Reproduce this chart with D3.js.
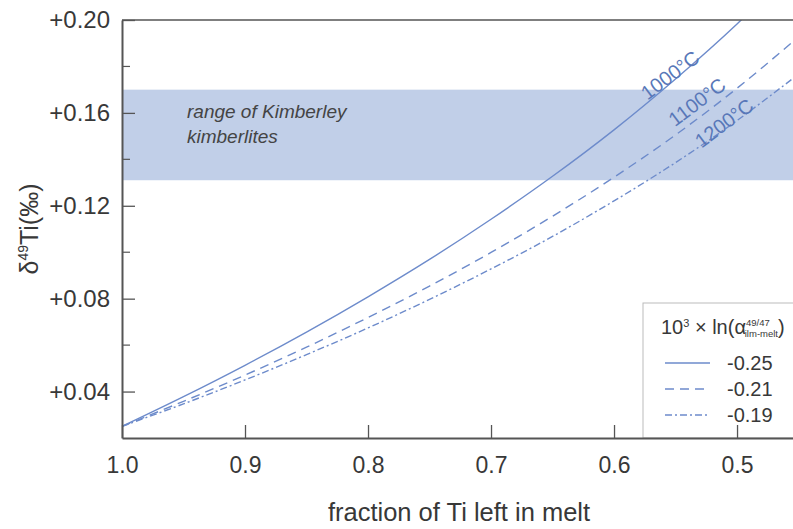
<!DOCTYPE html>
<html>
<head>
<meta charset="utf-8">
<script src="https://cdn.jsdelivr.net/npm/d3@7"></script>
<style>
  body { margin: 0; background: #fff; }
  svg { font-family: "Liberation Sans", Arial, sans-serif; }
</style>
</head>
<body>
<svg width="793" height="529"></svg>
<script>
// fraction of Ti left in melt
var fractions = [1.0, 0.95, 0.9, 0.85, 0.8, 0.75, 0.7, 0.65, 0.6, 0.55, 0.5, 0.45];
// d49Ti
var curve1000 = [0.025, 0.0378, 0.0513, 0.0656, 0.0808, 0.0969, 0.1142, 0.1327, 0.1527, 0.1746, 0.1983, 0.2246];
var curve1100 = [0.025, 0.0358, 0.0471, 0.0591, 0.0719, 0.0854, 0.0999, 0.1155, 0.1323, 0.1505, 0.1706, 0.1927];
var curve1200 = [0.025, 0.0347, 0.0450, 0.0559, 0.0674, 0.0797, 0.0928, 0.1068, 0.1221, 0.1386, 0.1567, 0.1767];
var curveNames = ["1000°C", "1100°C", "1200°C"];
var legendValues = ["-0.25", "-0.21", "-0.19"];
var kimberleyRange = [0.131, 0.170];
var xTicks = [1.0, 0.9, 0.8, 0.7, 0.6, 0.5];
var yTicks = [0.04, 0.08, 0.12, 0.16, 0.20];
var yMinorTicks = [0.06, 0.10, 0.14, 0.18];

function drawChart() {
  var svg = d3.select("svg");
  var plotLeft = 122, plotRight = 793, plotTop = 20, plotBottom = 438;

  var x = d3.scaleLinear().domain([1.0, 0.4545]).range([plotLeft, plotRight]);
  var y = d3.scaleLinear().domain([0.02, 0.20]).range([plotBottom, plotTop]);

  var axisColor = "#555";
  var textColor = "#383838";
  var lineColor = "#6d8bcb";
  var series = [curve1000, curve1100, curve1200];
  var dashes = [null, "9,6", "7,3,2,3"];

  svg.append("defs").append("clipPath").attr("id", "plot")
    .append("rect")
    .attr("x", plotLeft).attr("y", plotTop)
    .attr("width", plotRight - plotLeft).attr("height", plotBottom - plotTop);

  // kimberlite band
  svg.append("rect")
    .attr("x", plotLeft)
    .attr("y", y(kimberleyRange[1]))
    .attr("width", plotRight - plotLeft)
    .attr("height", y(kimberleyRange[0]) - y(kimberleyRange[1]))
    .attr("fill", "#c1cfe8");

  svg.append("text")
    .attr("x", 187).attr("y", 118)
    .attr("font-size", 19).attr("font-style", "italic")
    .attr("fill", "#444")
    .text("range of Kimberley");
  svg.append("text")
    .attr("x", 187).attr("y", 143)
    .attr("font-size", 19).attr("font-style", "italic")
    .attr("fill", "#444")
    .text("kimberlites");

  // curves
  var line = d3.line()
    .x(function (d, i) { return x(fractions[i]); })
    .y(function (d) { return y(d); })
    .curve(d3.curveCatmullRom);

  svg.append("g")
    .attr("clip-path", "url(#plot)")
    .selectAll("path")
    .data(series)
    .enter().append("path")
    .attr("d", line)
    .attr("fill", "none")
    .attr("stroke", lineColor)
    .attr("stroke-width", 1.4)
    .attr("stroke-dasharray", function (d, i) { return dashes[i]; });

  // curve labels
  var labelPos = [[670, 75], [697, 102], [724, 123]];
  svg.selectAll(".clabel")
    .data(curveNames)
    .enter().append("text")
    .attr("class", "clabel")
    .attr("transform", function (d, i) {
      return "translate(" + labelPos[i][0] + "," + labelPos[i][1] + ") rotate(-37)";
    })
    .attr("text-anchor", "middle")
    .attr("dy", "0.35em")
    .attr("font-size", 20)
    .attr("fill", "#5877b8")
    .text(function (d) { return d; });

  // legend (drawn under the axis)
  var lg = svg.append("g");
  lg.append("rect")
    .attr("x", 643).attr("y", 303)
    .attr("width", 160).attr("height", plotBottom - 303)
    .attr("fill", "#fff").attr("stroke", "#bbb").attr("stroke-width", 1);

  var lt = lg.append("text")
    .attr("x", 661).attr("y", 334)
    .attr("font-size", 20).attr("fill", textColor);
  lt.append("tspan").text("10");
  lt.append("tspan").attr("font-size", 11).attr("dy", -7).text("3");
  lt.append("tspan").attr("dy", 7).text(" × ln(α");
  lt.append("tspan").attr("font-size", 9.5).attr("dy", -8).text("49/47");
  lt.append("tspan").attr("font-size", 9.5).attr("dx", -25).attr("dy", 11).text("ilm-melt");
  lt.append("tspan").attr("dy", -3).text(")");

  var rows = lg.selectAll(".row")
    .data(legendValues)
    .enter().append("g")
    .attr("class", "row")
    .attr("transform", function (d, i) { return "translate(0," + (363 + i * 26) + ")"; });
  rows.append("line")
    .attr("x1", 665).attr("x2", 710)
    .attr("stroke", lineColor).attr("stroke-width", 1.3)
    .attr("stroke-dasharray", function (d, i) { return dashes[i]; });
  rows.append("text")
    .attr("x", 727).attr("y", 7)
    .attr("font-size", 20).attr("fill", textColor)
    .text(function (d) { return d; });

  // frame
  svg.append("line")
    .attr("x1", plotLeft).attr("x2", plotRight).attr("y1", plotTop).attr("y2", plotTop)
    .attr("stroke", axisColor).attr("stroke-width", 1.5);

  var xAxis = svg.append("g")
    .attr("transform", "translate(0," + plotBottom + ")")
    .call(d3.axisBottom(x).tickValues(xTicks).tickFormat(d3.format(".1f")).tickSizeInner(-13).tickSizeOuter(0).tickPadding(19));
  xAxis.select(".domain").attr("stroke", axisColor).attr("stroke-width", 2);
  xAxis.selectAll(".tick line").attr("stroke", axisColor).attr("stroke-width", 1.3);
  xAxis.selectAll(".tick text").attr("font-size", 23).attr("fill", textColor).attr("font-family", "Liberation Sans, Arial, sans-serif");

  var yAxis = svg.append("g")
    .attr("transform", "translate(" + plotLeft + ",0)")
    .call(d3.axisLeft(y).tickValues(yTicks).tickFormat(function (d) { return "+" + d3.format(".2f")(d); }).tickSizeInner(-13).tickSizeOuter(0).tickPadding(12));
  yAxis.select(".domain").attr("stroke", axisColor).attr("stroke-width", 2);
  yAxis.selectAll(".tick line").attr("stroke", axisColor).attr("stroke-width", 1.3);
  yAxis.selectAll(".tick text").attr("font-size", 24).attr("fill", textColor).attr("font-family", "Liberation Sans, Arial, sans-serif");

  svg.append("g").selectAll("line")
    .data(yMinorTicks)
    .enter().append("line")
    .attr("x1", plotLeft).attr("x2", plotLeft + 8)
    .attr("y1", function (d) { return y(d); })
    .attr("y2", function (d) { return y(d); })
    .attr("stroke", axisColor).attr("stroke-width", 1.2);

  // axis titles
  svg.append("text")
    .attr("x", 459).attr("y", 521)
    .attr("text-anchor", "middle")
    .attr("font-size", 25.5).attr("fill", textColor)
    .text("fraction of Ti left in melt");

  var yt = svg.append("text")
    .attr("transform", "translate(38,229) rotate(-90)")
    .attr("text-anchor", "middle")
    .attr("font-size", 25).attr("fill", textColor);
  yt.append("tspan").text("δ");
  yt.append("tspan").attr("font-size", 14).attr("dy", -10).text("49");
  yt.append("tspan").attr("dy", 10).text("Ti(‰)");
}

drawChart();
</script>
</body>
</html>
